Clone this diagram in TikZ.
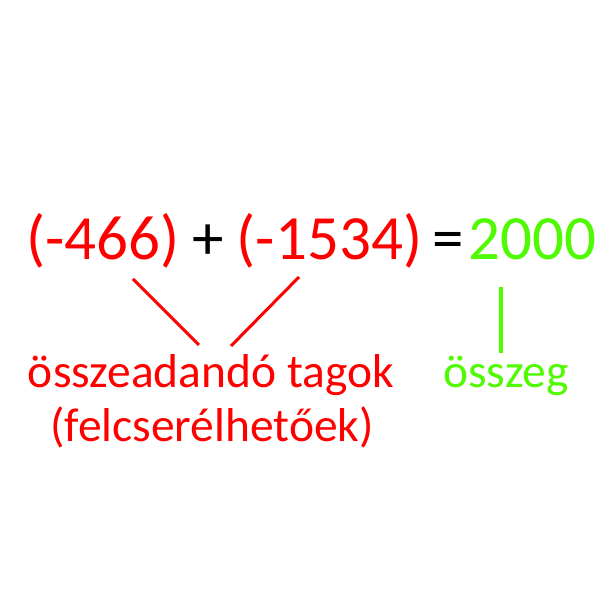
\documentclass[tikz,border=0pt]{standalone}
\usepackage{fontspec}
\setmainfont{Carlito}
\definecolor{tred}{RGB}{255,0,0}
\definecolor{tgreen}{RGB}{80,250,0}
\begin{document}
\begin{tikzpicture}[x=1pt,y=1pt,
  big/.style={inner sep=0pt,anchor=base,font=\fontsize{63}{63}\selectfont},
  lbl/.style={inner sep=0pt,anchor=base,font=\fontsize{47.5}{54}\selectfont,align=center},
  conn/.style={line width=3pt}]
\useasboundingbox (0,0) rectangle (600,600);
\fill[white] (0,0) rectangle (600,600);
% equation
\node[big,text=tred] (a) at (103,340) {(-466)};
\node[big,text=black] (plus) at (208,340) {+};
\node[big,text=tred] (b) at (329.5,340) {(-1534)};
\node[big,text=black] (eq) at (448,340) {=};
\node[big,text=tgreen] (sum) at (532.5,340) {2000};
% labels
\node[lbl,text=tred] (terms) at (211,212) {összeadandó tagok};
\node[lbl,text=tred] (comm) at (212,158) {(felcserélhetőek)};
\node[lbl,text=tgreen] (osszeg) at (506,212) {összeg};
% connector ends
\coordinate (a1) at (133,321);
\coordinate (a2) at (199,255);
\coordinate (b1) at (299,323);
\coordinate (b2) at (231,254);
\coordinate (s1) at (501,313);
\coordinate (s2) at (501,247);
\draw[conn,tred] (a1) -- (a2);
\draw[conn,tred] (b1) -- (b2);
\draw[conn,tgreen,line width=3.5pt] (s1) -- (s2);
\end{tikzpicture}
\end{document}
